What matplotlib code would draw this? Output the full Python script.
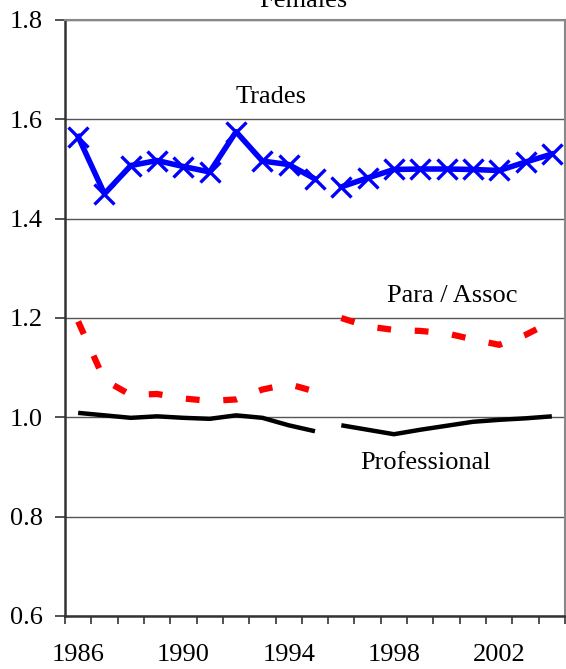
import numpy as np
import matplotlib
matplotlib.use('Agg')
from matplotlib import pyplot as plt

years = list(range(1986, 2005))
trades = [1.565, 1.450, 1.507, 1.517, 1.505, 1.494, 1.575, 1.516, 1.509, 1.480,
          1.464, 1.482, 1.499, 1.500, 1.500, 1.499, 1.497, 1.514, 1.530]
para = [1.193, 1.075, 1.045, 1.047, 1.038, 1.033, 1.036, 1.056, 1.067, 1.052,
        1.200, 1.183, 1.176, 1.174, 1.169, 1.157, 1.146, 1.166, 1.193]
prof = [1.009, 1.004, 0.999, 1.002, 0.999, 0.997, 1.004, 0.999, 0.984, 0.972,
        0.984, 0.975, 0.966, 0.975, 0.983, 0.991, 0.995, 0.998, 1.002]
break_after = 1995   # series break between 1995 and 1996
label_years = [1986, 1990, 1994, 1998, 2002]
yticks = [0.6, 0.8, 1.0, 1.2, 1.4, 1.6, 1.8]

plt.rcParams['font.family'] = ['Liberation Serif', 'DejaVu Serif']

fig = plt.figure(figsize=(5.66, 6.69), dpi=100)
ax = fig.add_axes([65/566, 53/669, 500/566, 596/669])

x = np.arange(len(years))
cut = years.index(break_after) + 1

def split(vals):
    return [(x[:cut], vals[:cut]), (x[cut:], vals[cut:])]

for xs, ys in split(prof):
    ax.plot(xs, ys, color='black', lw=3.2, solid_capstyle='butt', zorder=3)
for xs, ys in split(para):
    ax.plot(xs, ys, color='red', lw=4.5, ls=(0, (2.2, 3.8)), zorder=3)
for xs, ys in split(trades):
    ax.plot(xs, ys, color='blue', lw=4, marker='x', ms=15, mew=2.4, zorder=4)

ax.set_xlim(-0.5, len(years) - 0.5)
ax.set_ylim(0.6, 1.8)
ax.set_yticks(yticks)
ax.set_yticklabels(['%.1f' % v for v in yticks], fontsize=19)
ax.yaxis.grid(True, color='#555555', lw=1)
ax.set_axisbelow(True)

ax.set_xticks(np.arange(-0.5, len(years), 1))
ax.set_xticklabels([])
ax.set_xticks([years.index(y) for y in label_years], minor=True)
ax.set_xticklabels([str(y) for y in label_years], minor=True, fontsize=19)
ax.tick_params(axis='x', which='major', length=6, width=1.2, color='#333333')
ax.tick_params(axis='x', which='minor', length=0, pad=20)
ax.tick_params(axis='y', length=7, width=1.2, color='#333333', pad=9)

for s in ['left', 'bottom']:
    ax.spines[s].set_color('#333333')
    ax.spines[s].set_linewidth(1.8)
for s in ['top', 'right']:
    ax.spines[s].set_color('#888888')
    ax.spines[s].set_linewidth(1.5)

ax.text(7.33, 1.645, 'Trades', fontsize=19, ha='center', va='center')
ax.text(14.2, 1.244, 'Para / Assoc', fontsize=19, ha='center', va='center')
ax.text(13.2, 0.909, 'Professional', fontsize=19, ha='center', va='center')

fig.text(303/566, 1 - 12/669, 'Females', fontsize=19, ha='center', va='bottom')

plt.savefig('out.png', dpi=100)
